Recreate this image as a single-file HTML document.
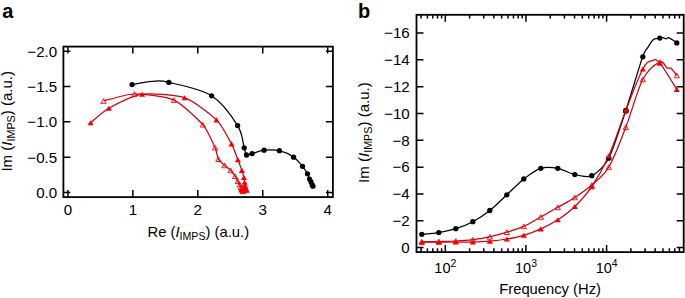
<!DOCTYPE html>
<html><head><meta charset="utf-8"><style>
html,body{margin:0;padding:0;background:#fff;overflow:hidden;}
svg{display:block;}
text{font-family:"Liberation Sans",sans-serif;fill:#000;}
</style></head><body>
<svg width="685" height="298" viewBox="0 0 685 298">
<rect x="63.40" y="46.60" width="269.50" height="150.50" fill="none" stroke="#000" stroke-width="1.8"/>
<path d="M67.90,197.10v-7.00 M67.90,46.60v7.00 M132.85,197.10v-7.00 M132.85,46.60v7.00 M197.80,197.10v-7.00 M197.80,46.60v7.00 M262.75,197.10v-7.00 M262.75,46.60v7.00 M327.70,197.10v-7.00 M327.70,46.60v7.00 M63.40,192.50h7.00 M332.90,192.50h-7.00 M63.40,157.18h7.00 M332.90,157.18h-7.00 M63.40,121.85h7.00 M332.90,121.85h-7.00 M63.40,86.52h7.00 M332.90,86.52h-7.00 M63.40,51.20h7.00 M332.90,51.20h-7.00 M416.50,247.60h7.00 M683.70,247.60h-7.00 M416.50,220.78h7.00 M683.70,220.78h-7.00 M416.50,193.96h7.00 M683.70,193.96h-7.00 M416.50,167.14h7.00 M683.70,167.14h-7.00 M416.50,140.32h7.00 M683.70,140.32h-7.00 M416.50,113.50h7.00 M683.70,113.50h-7.00 M416.50,86.68h7.00 M683.70,86.68h-7.00 M416.50,59.86h7.00 M683.70,59.86h-7.00 M416.50,33.04h7.00 M683.70,33.04h-7.00 M421.02,252.10v-3.80 M421.02,14.80v3.80 M427.41,252.10v-3.80 M427.41,14.80v3.80 M432.81,252.10v-3.80 M432.81,14.80v3.80 M437.48,252.10v-3.80 M437.48,14.80v3.80 M441.61,252.10v-3.80 M441.61,14.80v3.80 M445.30,252.10v-7.00 M445.30,14.80v7.00 M469.58,252.10v-3.80 M469.58,14.80v3.80 M483.78,252.10v-3.80 M483.78,14.80v3.80 M493.86,252.10v-3.80 M493.86,14.80v3.80 M501.67,252.10v-3.80 M501.67,14.80v3.80 M508.06,252.10v-3.80 M508.06,14.80v3.80 M513.46,252.10v-3.80 M513.46,14.80v3.80 M518.13,252.10v-3.80 M518.13,14.80v3.80 M522.26,252.10v-3.80 M522.26,14.80v3.80 M525.95,252.10v-7.00 M525.95,14.80v7.00 M550.23,252.10v-3.80 M550.23,14.80v3.80 M564.43,252.10v-3.80 M564.43,14.80v3.80 M574.51,252.10v-3.80 M574.51,14.80v3.80 M582.32,252.10v-3.80 M582.32,14.80v3.80 M588.71,252.10v-3.80 M588.71,14.80v3.80 M594.11,252.10v-3.80 M594.11,14.80v3.80 M598.78,252.10v-3.80 M598.78,14.80v3.80 M602.91,252.10v-3.80 M602.91,14.80v3.80 M606.60,252.10v-7.00 M606.60,14.80v7.00 M630.88,252.10v-3.80 M630.88,14.80v3.80 M645.08,252.10v-3.80 M645.08,14.80v3.80 M655.16,252.10v-3.80 M655.16,14.80v3.80 M662.97,252.10v-3.80 M662.97,14.80v3.80 M669.36,252.10v-3.80 M669.36,14.80v3.80 M674.76,252.10v-3.80 M674.76,14.80v3.80 M679.43,252.10v-3.80 M679.43,14.80v3.80" stroke="#000" stroke-width="1.5" fill="none"/>
<rect x="416.50" y="14.80" width="267.20" height="237.30" fill="none" stroke="#000" stroke-width="1.8"/>
<path d="M103.50,101.00 C107.12,100.18 126.29,94.11 134.50,94.00 C142.71,93.89 165.93,96.52 173.90,100.10 C181.87,103.68 198.01,119.16 202.80,124.70 C207.59,130.24 213.18,143.57 215.00,147.60 C216.82,151.62 217.28,157.12 218.40,159.20 C219.52,161.28 223.18,164.09 224.60,165.40 C226.02,166.71 229.38,169.14 230.60,170.40 C231.82,171.66 234.26,174.94 235.10,176.20 C235.94,177.46 237.28,180.22 237.80,181.20 C238.33,182.18 239.25,183.90 239.60,184.60 C239.95,185.30 240.54,186.70 240.80,187.20 C241.06,187.70 241.61,188.57 241.80,188.90 C241.99,189.23 242.28,189.78 242.40,190.00 C242.52,190.22 242.73,190.65 242.80,190.80 C242.87,190.95 242.98,191.24 243.00,191.30" stroke="#d0000e" stroke-width="1.25" fill="none"/>
<path d="M90.60,122.80 C92.73,121.11 102.88,111.64 108.90,108.30 C114.92,104.96 133.38,95.44 142.20,94.20 C151.02,92.96 175.83,94.70 184.50,97.70 C193.17,100.70 211.02,114.51 216.50,119.90 C221.98,125.29 229.00,139.25 231.50,143.90 C234.00,148.56 236.69,156.71 237.90,159.80 C239.11,162.89 241.20,168.34 241.90,170.40 C242.60,172.47 243.59,176.12 243.90,177.50 C244.22,178.88 244.47,181.30 244.60,182.20 C244.73,183.10 244.91,184.60 245.00,185.20 C245.09,185.79 245.31,186.90 245.40,187.30 C245.49,187.70 245.72,188.34 245.80,188.60 C245.88,188.86 246.04,189.34 246.10,189.50 C246.16,189.66 246.27,189.91 246.30,190.00 C246.34,190.09 246.39,190.27 246.40,190.30" stroke="#d0000e" stroke-width="1.25" fill="none"/>
<path d="M132.10,84.60 C135.42,84.07 145.88,81.77 152.00,81.40 C158.12,81.03 158.87,80.00 168.80,82.40 C178.73,84.80 200.13,88.60 211.60,95.80 C223.07,103.00 232.17,116.93 237.60,125.60 C243.03,134.27 242.72,142.90 244.20,147.80 C245.68,152.70 245.18,154.03 246.50,155.00 C247.82,155.97 249.17,154.40 252.10,153.60 C255.03,152.80 259.55,150.68 264.10,150.20 C268.65,149.72 274.48,149.53 279.40,150.70 C284.32,151.87 289.75,154.60 293.60,157.20 C297.45,159.80 300.18,163.53 302.50,166.30 C304.82,169.07 306.32,171.67 307.50,173.80 C308.68,175.93 309.02,177.73 309.60,179.10 C310.18,180.47 310.57,181.02 311.00,182.00 C311.43,182.98 311.88,184.30 312.20,185.00 C312.52,185.70 312.78,186.00 312.90,186.20" stroke="#000" stroke-width="1.25" fill="none"/>
<polygon points="103.50,98.65 106.15,103.35 100.85,103.35" fill="none" stroke="#f60006" stroke-width="0.90"/>
<polygon points="134.50,91.65 137.15,96.35 131.85,96.35" fill="none" stroke="#f60006" stroke-width="0.90"/>
<polygon points="173.90,97.75 176.55,102.45 171.25,102.45" fill="none" stroke="#f60006" stroke-width="0.90"/>
<polygon points="202.80,122.35 205.45,127.05 200.15,127.05" fill="none" stroke="#f60006" stroke-width="0.90"/>
<polygon points="215.00,145.25 217.65,149.95 212.35,149.95" fill="none" stroke="#f60006" stroke-width="0.90"/>
<polygon points="218.40,156.85 221.05,161.55 215.75,161.55" fill="none" stroke="#f60006" stroke-width="0.90"/>
<polygon points="224.60,163.05 227.25,167.75 221.95,167.75" fill="none" stroke="#f60006" stroke-width="0.90"/>
<polygon points="230.60,168.05 233.25,172.75 227.95,172.75" fill="none" stroke="#f60006" stroke-width="0.90"/>
<polygon points="235.10,173.85 237.75,178.55 232.45,178.55" fill="none" stroke="#f60006" stroke-width="0.90"/>
<polygon points="237.80,178.85 240.45,183.55 235.15,183.55" fill="none" stroke="#f60006" stroke-width="0.90"/>
<polygon points="239.60,182.25 242.25,186.95 236.95,186.95" fill="none" stroke="#f60006" stroke-width="0.90"/>
<polygon points="240.80,184.85 243.45,189.55 238.15,189.55" fill="none" stroke="#f60006" stroke-width="0.90"/>
<polygon points="241.80,186.55 244.45,191.25 239.15,191.25" fill="none" stroke="#f60006" stroke-width="0.90"/>
<polygon points="242.40,187.65 245.05,192.35 239.75,192.35" fill="none" stroke="#f60006" stroke-width="0.90"/>
<polygon points="242.80,188.45 245.45,193.15 240.15,193.15" fill="none" stroke="#f60006" stroke-width="0.90"/>
<polygon points="243.00,188.95 245.65,193.65 240.35,193.65" fill="none" stroke="#f60006" stroke-width="0.90"/>
<polygon points="90.60,120.25 93.70,125.35 87.50,125.35" fill="#f60006" stroke="none" stroke-width="0.80"/>
<polygon points="108.90,105.75 112.00,110.85 105.80,110.85" fill="#f60006" stroke="none" stroke-width="0.80"/>
<polygon points="142.20,91.65 145.30,96.75 139.10,96.75" fill="#f60006" stroke="none" stroke-width="0.80"/>
<polygon points="184.50,95.15 187.60,100.25 181.40,100.25" fill="#f60006" stroke="none" stroke-width="0.80"/>
<polygon points="216.50,117.35 219.60,122.45 213.40,122.45" fill="#f60006" stroke="none" stroke-width="0.80"/>
<polygon points="231.50,141.35 234.60,146.45 228.40,146.45" fill="#f60006" stroke="none" stroke-width="0.80"/>
<polygon points="237.90,157.25 241.00,162.35 234.80,162.35" fill="#f60006" stroke="none" stroke-width="0.80"/>
<polygon points="241.90,167.85 245.00,172.95 238.80,172.95" fill="#f60006" stroke="none" stroke-width="0.80"/>
<polygon points="243.90,174.95 247.00,180.05 240.80,180.05" fill="#f60006" stroke="none" stroke-width="0.80"/>
<polygon points="244.60,179.65 247.70,184.75 241.50,184.75" fill="#f60006" stroke="none" stroke-width="0.80"/>
<polygon points="245.00,182.65 248.10,187.75 241.90,187.75" fill="#f60006" stroke="none" stroke-width="0.80"/>
<polygon points="245.40,184.75 248.50,189.85 242.30,189.85" fill="#f60006" stroke="none" stroke-width="0.80"/>
<polygon points="245.80,186.05 248.90,191.15 242.70,191.15" fill="#f60006" stroke="none" stroke-width="0.80"/>
<polygon points="246.10,186.95 249.20,192.05 243.00,192.05" fill="#f60006" stroke="none" stroke-width="0.80"/>
<polygon points="246.30,187.45 249.40,192.55 243.20,192.55" fill="#f60006" stroke="none" stroke-width="0.80"/>
<polygon points="246.40,187.75 249.50,192.85 243.30,192.85" fill="#f60006" stroke="none" stroke-width="0.80"/>
<polygon points="241.60,187.25 244.70,192.35 238.50,192.35" fill="#f60006" stroke="none" stroke-width="0.80"/>
<polygon points="243.00,184.95 246.10,190.05 239.90,190.05" fill="#f60006" stroke="none" stroke-width="0.80"/>
<polygon points="242.40,187.05 245.50,192.15 239.30,192.15" fill="#f60006" stroke="none" stroke-width="0.80"/>
<circle cx="132.10" cy="84.60" r="2.65" fill="#000"/>
<circle cx="168.80" cy="82.40" r="2.65" fill="#000"/>
<circle cx="211.60" cy="95.80" r="2.65" fill="#000"/>
<circle cx="237.60" cy="125.60" r="2.65" fill="#000"/>
<circle cx="244.20" cy="147.80" r="2.65" fill="#000"/>
<circle cx="246.50" cy="155.00" r="2.65" fill="#000"/>
<circle cx="252.10" cy="153.60" r="2.65" fill="#000"/>
<circle cx="264.10" cy="150.20" r="2.65" fill="#000"/>
<circle cx="279.40" cy="150.70" r="2.65" fill="#000"/>
<circle cx="293.60" cy="157.20" r="2.65" fill="#000"/>
<circle cx="302.50" cy="166.30" r="2.65" fill="#000"/>
<circle cx="307.50" cy="173.80" r="2.65" fill="#000"/>
<circle cx="309.60" cy="179.10" r="2.65" fill="#000"/>
<circle cx="311.00" cy="182.00" r="2.65" fill="#000"/>
<circle cx="312.20" cy="185.00" r="2.65" fill="#000"/>
<circle cx="312.90" cy="186.20" r="2.65" fill="#000"/>
<path d="M421.80,234.30 C424.07,234.07 434.27,233.35 438.80,232.60 C443.33,231.85 451.27,230.15 455.80,228.70 C460.33,227.25 468.27,224.13 472.80,221.70 C477.33,219.27 485.27,214.09 489.80,210.50 C494.33,206.91 502.27,199.01 506.80,194.80 C511.33,190.59 519.27,182.43 523.80,178.90 C528.33,175.37 536.27,169.71 540.80,168.30 C545.33,166.89 553.27,167.46 557.80,168.30 C562.33,169.14 570.27,173.61 574.80,174.60 C579.33,175.59 587.27,177.89 591.80,175.70 C596.33,173.51 604.27,166.89 608.80,158.20 C613.33,149.51 621.29,124.01 625.80,110.50 C630.31,96.99 639.63,65.35 642.60,56.90 C645.57,48.45 646.83,49.23 648.10,47.10 C649.37,44.97 651.23,41.99 652.10,40.90 C652.97,39.81 653.55,39.26 654.60,38.90 C655.65,38.54 658.85,38.37 660.00,38.20 C661.15,38.03 662.40,37.52 663.20,37.60 C664.00,37.68 665.20,38.77 666.00,38.80 C666.80,38.83 667.76,37.28 669.20,37.80 C670.64,38.32 675.79,42.05 676.80,42.70" stroke="#000" stroke-width="1.25" fill="none"/>
<path d="M421.80,241.80 C424.63,241.75 433.13,241.63 438.80,241.50 C444.47,241.37 450.13,241.32 455.80,241.00 C461.47,240.68 467.13,240.30 472.80,239.60 C478.47,238.90 484.13,238.03 489.80,236.80 C495.47,235.57 501.13,233.93 506.80,232.20 C512.47,230.47 518.13,228.93 523.80,226.40 C529.47,223.87 535.13,220.18 540.80,217.00 C546.47,213.82 552.13,210.57 557.80,207.30 C563.47,204.03 569.13,201.12 574.80,197.40 C580.47,193.68 586.13,190.07 591.80,185.00 C597.47,179.93 603.13,176.63 608.80,167.00 C614.47,157.37 620.13,141.78 625.80,127.20 C631.47,112.62 637.13,90.37 642.80,79.50 C648.47,68.63 655.77,63.93 659.80,62.00 C663.83,60.07 665.10,66.83 667.00,67.90 C668.90,68.97 669.57,67.13 671.20,68.40 C672.83,69.67 675.87,74.32 676.80,75.50" stroke="#d0000e" stroke-width="1.25" fill="none"/>
<path d="M421.80,242.10 C424.63,242.10 433.13,242.12 438.80,242.10 C444.47,242.08 450.13,242.02 455.80,242.00 C461.47,241.98 467.13,242.13 472.80,242.00 C478.47,241.87 484.13,241.70 489.80,241.20 C495.47,240.70 501.13,239.98 506.80,239.00 C512.47,238.02 518.13,236.98 523.80,235.30 C529.47,233.62 535.13,231.48 540.80,228.90 C546.47,226.32 552.13,223.53 557.80,219.80 C563.47,216.07 569.13,212.03 574.80,206.50 C580.47,200.97 586.13,195.05 591.80,186.60 C597.47,178.15 603.13,168.48 608.80,155.80 C614.47,143.12 620.13,124.97 625.80,110.50 C631.47,96.03 638.37,77.32 642.80,69.00 C647.23,60.68 649.57,61.57 652.40,60.60 C655.23,59.63 655.73,58.40 659.80,63.20 C663.87,68.00 673.97,85.03 676.80,89.40" stroke="#d0000e" stroke-width="1.25" fill="none"/>
<circle cx="421.80" cy="234.30" r="2.65" fill="#000"/>
<circle cx="438.80" cy="232.60" r="2.65" fill="#000"/>
<circle cx="455.80" cy="228.70" r="2.65" fill="#000"/>
<circle cx="472.80" cy="221.70" r="2.65" fill="#000"/>
<circle cx="489.80" cy="210.50" r="2.65" fill="#000"/>
<circle cx="506.80" cy="194.80" r="2.65" fill="#000"/>
<circle cx="523.80" cy="178.90" r="2.65" fill="#000"/>
<circle cx="540.80" cy="168.30" r="2.65" fill="#000"/>
<circle cx="557.80" cy="168.30" r="2.65" fill="#000"/>
<circle cx="574.80" cy="174.60" r="2.65" fill="#000"/>
<circle cx="591.80" cy="175.70" r="2.65" fill="#000"/>
<circle cx="608.80" cy="158.20" r="2.65" fill="#000"/>
<circle cx="625.80" cy="110.50" r="2.65" fill="#000"/>
<circle cx="642.80" cy="56.80" r="2.65" fill="#000"/>
<circle cx="659.80" cy="38.10" r="2.65" fill="#000"/>
<circle cx="676.80" cy="42.90" r="2.65" fill="#000"/>
<polygon points="421.80,239.45 424.45,244.15 419.15,244.15" fill="none" stroke="#f60006" stroke-width="0.90"/>
<polygon points="438.80,239.15 441.45,243.85 436.15,243.85" fill="none" stroke="#f60006" stroke-width="0.90"/>
<polygon points="455.80,238.65 458.45,243.35 453.15,243.35" fill="none" stroke="#f60006" stroke-width="0.90"/>
<polygon points="472.80,237.25 475.45,241.95 470.15,241.95" fill="none" stroke="#f60006" stroke-width="0.90"/>
<polygon points="489.80,234.45 492.45,239.15 487.15,239.15" fill="none" stroke="#f60006" stroke-width="0.90"/>
<polygon points="506.80,229.85 509.45,234.55 504.15,234.55" fill="none" stroke="#f60006" stroke-width="0.90"/>
<polygon points="523.80,224.05 526.45,228.75 521.15,228.75" fill="none" stroke="#f60006" stroke-width="0.90"/>
<polygon points="540.80,214.65 543.45,219.35 538.15,219.35" fill="none" stroke="#f60006" stroke-width="0.90"/>
<polygon points="557.80,204.95 560.45,209.65 555.15,209.65" fill="none" stroke="#f60006" stroke-width="0.90"/>
<polygon points="574.80,195.05 577.45,199.75 572.15,199.75" fill="none" stroke="#f60006" stroke-width="0.90"/>
<polygon points="591.80,182.65 594.45,187.35 589.15,187.35" fill="none" stroke="#f60006" stroke-width="0.90"/>
<polygon points="608.80,164.65 611.45,169.35 606.15,169.35" fill="none" stroke="#f60006" stroke-width="0.90"/>
<polygon points="625.80,124.85 628.45,129.55 623.15,129.55" fill="none" stroke="#f60006" stroke-width="0.90"/>
<polygon points="642.80,77.15 645.45,81.85 640.15,81.85" fill="none" stroke="#f60006" stroke-width="0.90"/>
<polygon points="659.80,59.65 662.45,64.35 657.15,64.35" fill="none" stroke="#f60006" stroke-width="0.90"/>
<polygon points="676.80,73.15 679.45,77.85 674.15,77.85" fill="none" stroke="#f60006" stroke-width="0.90"/>
<polygon points="421.80,239.55 424.90,244.65 418.70,244.65" fill="#f60006" stroke="none" stroke-width="0.80"/>
<polygon points="438.80,239.55 441.90,244.65 435.70,244.65" fill="#f60006" stroke="none" stroke-width="0.80"/>
<polygon points="455.80,239.45 458.90,244.55 452.70,244.55" fill="#f60006" stroke="none" stroke-width="0.80"/>
<polygon points="472.80,239.45 475.90,244.55 469.70,244.55" fill="#f60006" stroke="none" stroke-width="0.80"/>
<polygon points="489.80,238.65 492.90,243.75 486.70,243.75" fill="#f60006" stroke="none" stroke-width="0.80"/>
<polygon points="506.80,236.45 509.90,241.55 503.70,241.55" fill="#f60006" stroke="none" stroke-width="0.80"/>
<polygon points="523.80,232.75 526.90,237.85 520.70,237.85" fill="#f60006" stroke="none" stroke-width="0.80"/>
<polygon points="540.80,226.35 543.90,231.45 537.70,231.45" fill="#f60006" stroke="none" stroke-width="0.80"/>
<polygon points="557.80,217.25 560.90,222.35 554.70,222.35" fill="#f60006" stroke="none" stroke-width="0.80"/>
<polygon points="574.80,203.95 577.90,209.05 571.70,209.05" fill="#f60006" stroke="none" stroke-width="0.80"/>
<polygon points="591.80,184.05 594.90,189.15 588.70,189.15" fill="#f60006" stroke="none" stroke-width="0.80"/>
<polygon points="608.80,153.25 611.90,158.35 605.70,158.35" fill="#f60006" stroke="none" stroke-width="0.80"/>
<polygon points="625.80,107.95 628.90,113.05 622.70,113.05" fill="#f60006" stroke="none" stroke-width="0.80"/>
<polygon points="642.80,66.45 645.90,71.55 639.70,71.55" fill="#f60006" stroke="none" stroke-width="0.80"/>
<polygon points="659.80,60.65 662.90,65.75 656.70,65.75" fill="#f60006" stroke="none" stroke-width="0.80"/>
<polygon points="676.80,86.85 679.90,91.95 673.70,91.95" fill="#f60006" stroke="none" stroke-width="0.80"/>
<circle cx="626.00" cy="111.00" r="2.80" fill="#400"/>
<circle cx="626.00" cy="111.00" r="2.30" fill="#e00"/>
<text transform="translate(2.20,17.50) scale(1.000,1)" font-size="20.00" text-anchor="start" font-weight="bold">a</text>
<text transform="translate(357.90,17.60) scale(1.000,1)" font-size="20.00" text-anchor="start" font-weight="bold">b</text>
<text transform="translate(57.20,198.00) scale(1.010,1)" font-size="15.00" text-anchor="end" >0.0</text>
<text transform="translate(57.20,162.68) scale(1.010,1)" font-size="15.00" text-anchor="end" >&#8722;0.5</text>
<text transform="translate(57.20,127.35) scale(1.010,1)" font-size="15.00" text-anchor="end" >&#8722;1.0</text>
<text transform="translate(57.20,92.02) scale(1.010,1)" font-size="15.00" text-anchor="end" >&#8722;1.5</text>
<text transform="translate(57.20,56.70) scale(1.010,1)" font-size="15.00" text-anchor="end" >&#8722;2.0</text>
<text transform="translate(67.90,215.00) scale(1.010,1)" font-size="15.00" text-anchor="middle" >0</text>
<text transform="translate(132.85,215.00) scale(1.010,1)" font-size="15.00" text-anchor="middle" >1</text>
<text transform="translate(197.80,215.00) scale(1.010,1)" font-size="15.00" text-anchor="middle" >2</text>
<text transform="translate(262.75,215.00) scale(1.010,1)" font-size="15.00" text-anchor="middle" >3</text>
<text transform="translate(327.70,215.00) scale(1.010,1)" font-size="15.00" text-anchor="middle" >4</text>
<text transform="translate(409.80,252.90) scale(1.010,1)" font-size="15.00" text-anchor="end" >0</text>
<text transform="translate(409.80,226.08) scale(1.010,1)" font-size="15.00" text-anchor="end" >&#8722;2</text>
<text transform="translate(409.80,199.26) scale(1.010,1)" font-size="15.00" text-anchor="end" >&#8722;4</text>
<text transform="translate(409.80,172.44) scale(1.010,1)" font-size="15.00" text-anchor="end" >&#8722;6</text>
<text transform="translate(409.80,145.62) scale(1.010,1)" font-size="15.00" text-anchor="end" >&#8722;8</text>
<text transform="translate(409.80,118.80) scale(1.010,1)" font-size="15.00" text-anchor="end" >&#8722;10</text>
<text transform="translate(409.80,91.98) scale(1.010,1)" font-size="15.00" text-anchor="end" >&#8722;12</text>
<text transform="translate(409.80,65.16) scale(1.010,1)" font-size="15.00" text-anchor="end" >&#8722;14</text>
<text transform="translate(409.80,38.34) scale(1.010,1)" font-size="15.00" text-anchor="end" >&#8722;16</text>
<text transform="translate(445.30,273.00) scale(1.040,1)" font-size="14.00" text-anchor="middle" >10<tspan font-size="10" dy="-5.9">2</tspan></text>
<text transform="translate(525.95,273.00) scale(1.040,1)" font-size="14.00" text-anchor="middle" >10<tspan font-size="10" dy="-5.9">3</tspan></text>
<text transform="translate(606.60,273.00) scale(1.040,1)" font-size="14.00" text-anchor="middle" >10<tspan font-size="10" dy="-5.9">4</tspan></text>
<text transform="translate(198.30,236.50) scale(1.060,1)" font-size="14.00" text-anchor="middle" >Re (<tspan font-style="italic">I</tspan><tspan font-size="10" dy="3">IMPS</tspan><tspan dy="-3">)</tspan> (a.u.)</text>
<text transform="translate(550.10,294.00) scale(1.055,1)" font-size="14.00" text-anchor="middle" >Frequency (Hz)</text>
<text transform="translate(12.2,121.3) rotate(-90) scale(1.075,1)" font-size="14" text-anchor="middle">Im (<tspan font-style="italic">I</tspan><tspan font-size="10" dy="3">IMPS</tspan><tspan dy="-3">)</tspan> (a.u.)</text>
<text transform="translate(369.3,132.6) rotate(-90) scale(1.075,1)" font-size="14" text-anchor="middle">Im (<tspan font-style="italic">I</tspan><tspan font-size="10" dy="3">IMPS</tspan><tspan dy="-3">)</tspan> (a.u.)</text>
</svg>
</body></html>
